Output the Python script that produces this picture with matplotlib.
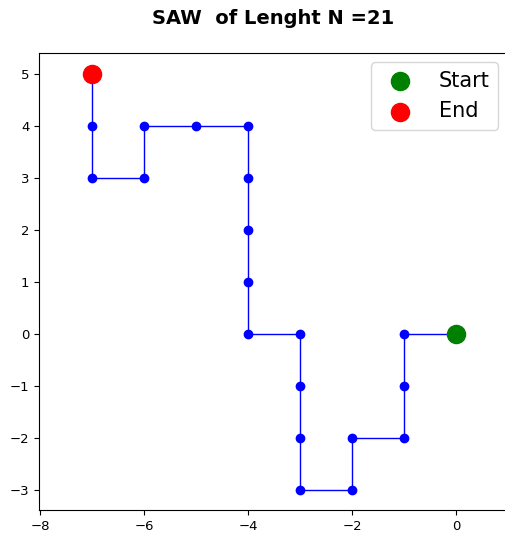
import matplotlib
matplotlib.use("Agg")
import matplotlib.pyplot as plt

# Lattice coordinates of the self-avoiding walk, step by step
walk_x = [0, -1, -1, -1, -2, -2, -3, -3, -3, -3, -4, -4, -4, -4, -4, -5, -6, -6, -7, -7, -7]
walk_y = [0, 0, -1, -2, -2, -3, -3, -2, -1, 0, 0, 1, 2, 3, 4, 4, 4, 3, 3, 4, 5]
x_ticks = [-8, -6, -4, -2, 0]
y_ticks = [-3, -2, -1, 0, 1, 2, 3, 4, 5]

fig = plt.figure(figsize=(5.05, 5.37), dpi=100)
ax = fig.add_axes([39 / 505, 27 / 537, 469 / 505, 457 / 537])

ax.plot(walk_x, walk_y, color="blue", lw=1.0, marker="o", ms=6)
ax.scatter(walk_x[0], walk_y[0], s=170, color="green", zorder=3, label="Start")
ax.scatter(walk_x[-1], walk_y[-1], s=170, color="red", zorder=3, label="End")

ax.set_xlim(-8.02, 1.0)
ax.set_ylim(-3.385, 5.40)
ax.set_xticks(x_ticks)
ax.set_yticks(y_ticks)
ax.tick_params(labelsize=9.5)

ax.legend(loc="upper right", fontsize=15, borderaxespad=0.6, handletextpad=0.85,
          bbox_to_anchor=(1.0055, 1.0066))
ax.set_title("SAW  of Lenght N =21", fontsize=14, fontweight="bold", pad=21)

fig.savefig("out.png", dpi=100)
